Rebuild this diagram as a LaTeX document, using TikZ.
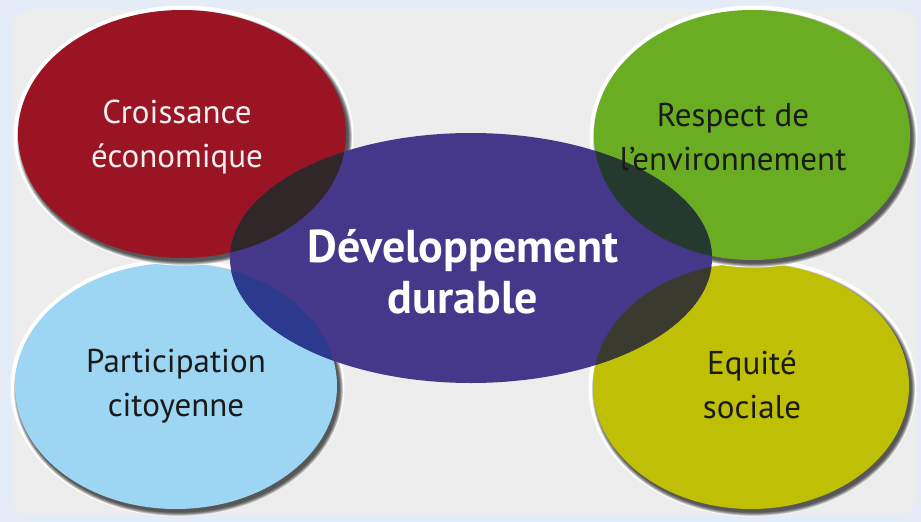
\documentclass[tikz,border=0pt]{standalone}
\usepackage{fontspec}
\setmainfont{PT Sans}
\definecolor{outerbg}{HTML}{E4ECF8}
\definecolor{innerbg}{HTML}{EDEDED}
\definecolor{cred}{HTML}{9B1424}
\definecolor{cgreen}{HTML}{6AAD22}
\definecolor{cblue}{HTML}{9DD6F2}
\definecolor{cyellow}{HTML}{BFBF05}
\definecolor{cpurple}{HTML}{45388B}
\definecolor{ovred}{HTML}{312628}
\definecolor{ovblue}{HTML}{2B3A8C}
\definecolor{ovgreen}{HTML}{253A2F}
\definecolor{ovyellow}{HTML}{3A3A2E}
\definecolor{darktext}{HTML}{1A1A1A}
\tikzset{
  bubble/.style={ellipse, inner sep=0pt, minimum width=#1},
  smalltext/.style={align=center, font=\fontsize{33}{44}\selectfont, text=darktext},
  bigtext/.style={align=center, font=\bfseries\fontsize{46}{51}\selectfont, text=white},
}
\usetikzlibrary{shapes.geometric}
\newcommand{\halo}[4]{%
  % #1 cx, #2 cy, #3 rx, #4 ry
  \fill[white] (#1+1.5,#2+1.5) ellipse [x radius=#3+6, y radius=#4+6];
  \foreach \k in {5,4,3,2,1,0}{
    \fill[black, opacity=0.16] (#1+2.5,#2+3.5) ellipse [x radius=#3+\k*0.7, y radius=#4+\k*0.7];
  }
}
\begin{document}
\begin{tikzpicture}[x=1pt, y=-1pt]
\useasboundingbox (0,0) rectangle (921,522);
\fill[outerbg] (0,0) rectangle (921,522);
\fill[innerbg, rounded corners=20pt] (12,9) rectangle (917,515);

% light blue
\halo{176}{386}{161}{123}
\node[bubble=322pt, minimum height=246pt, fill=cblue] (pe) at (176,386) {};
% yellow
\halo{751}{386}{158}{123}
\node[bubble=316pt, minimum height=246pt, fill=cyellow] (ee) at (751,386) {};
% red
\halo{182}{134}{164}{124}
\node[bubble=328pt, minimum height=248pt, fill=cred] (ce) at (182,134) {};
% green
\halo{752}{135}{158}{125}
\node[bubble=316pt, minimum height=250pt, fill=cgreen] (re) at (752,135) {};

% central purple
\node[bubble=482pt, minimum height=250pt, fill=cpurple] (dd) at (471,258) {};
\begin{scope}
  \clip (471,258) ellipse [x radius=241, y radius=125];
  \fill[ovred] (182,134) ellipse [x radius=164, y radius=124];
  \fill[ovgreen] (752,135) ellipse [x radius=158, y radius=125];
  \fill[ovblue] (176,386) ellipse [x radius=161, y radius=123];
  \fill[ovyellow] (751,386) ellipse [x radius=158, y radius=123];
\end{scope}

\node[smalltext, text=white!94!black] (tce) at (177,137) {Croissance\\économique};
\node[smalltext] (tre) at (733,137) {Respect de\\l’environnement};
\node[smalltext] (tpe) at (176,386) {Participation\\citoyenne};
\node[smalltext] (tee) at (752,385) {Equité\\sociale};
\node[bigtext] (tdd) at (463,272) {Développement\\durable};
\end{tikzpicture}
\end{document}
